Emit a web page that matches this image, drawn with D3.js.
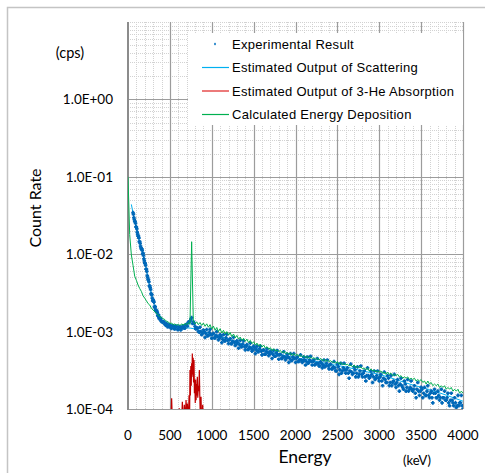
<!DOCTYPE html>
<html>
<head>
<meta charset="utf-8">
<script src="https://cdn.jsdelivr.net/npm/d3@7"></script>
<style>
  body { margin: 0; background: #fff; }
  svg text { font-family: Lato, "Open Sans", sans-serif; fill: #000; }
  .legend text { font-family: "Liberation Sans", Arial, sans-serif; font-size: 13px; letter-spacing: 0.3px; }
</style>
</head>
<body>
<div id="container-chart"></div>
<script>
// axis ticks
const xTickValues = [0, 500, 1000, 1500, 2000, 2500, 3000, 3500, 4000];
const yTickValues = [1, 0.1, 0.01, 0.001, 0.0001];
const yTickLabels = ["1.0E+00", "1.0E-01", "1.0E-02", "1.0E-03", "1.0E-04"];

const legendLabels = [
  "Experimental Result",
  "Estimated Output of Scattering",
  "Estimated Output of 3-He Absorption",
  "Calculated Energy Deposition"
];

// Experimental Result (cps), channels every 20 keV from 60 keV
const expStep = 20;
const expStart = 60;
const expRate = [
  .0345, .0266, .0224, .0171, .0145, .0116, .0103, .0077, .0064, .0047,
  .0039, .0030, .00258, .00205, .00188, .00158, .00152, .00136, .00135, .00124,
  .00128, .00116, .00121, .00110, .00119, .00108, .00117, .00106, .00115, .00109,
  .00118, .00111, .00124, .00131, .00137, .00152, .00134, .00117, .00112, .00101,
  .00114, .00091, .00105, .00084, .00106, .00089, .00107, .00082, .00095, .00083,
  .00100, .00078, .00091, .00072, .00091, .00076, .00092, .00070, .00081, .00070,
  .00084, .00066, .00076, .00061, .00077, .00064, .00076, .00058, .00068, .00059,
  .00071, .00056, .00065, .00052, .00065, .00055, .00065, .00050, .00058, .00051,
  .00060, .00049, .00056, .00045, .00057, .00048, .00057, .00044, .00051, .00045,
  .00055, .00043, .00051, .00040, .00052, .00043, .00052, .00040, .00047, .00041,
  .00050, .00040, .00047, .00037, .00047, .00040, .00048, .00037, .00043, .00038,
  .00045, .00036, .00041, .00034, .00043, .00036, .00043, .00033, .00038, .00033,
  .00041, .00031, .00038, .00028, .00039, .00031, .00039, .00029, .00034, .00025,
  .00038, .00028, .00035, .00026, .00035, .00028, .00036, .00026, .00031, .00023,
  .00034, .00025, .00031, .00022, .00031, .00025, .00031, .00023, .00028, .00020,
  .00030, .00022, .00027, .00020, .00027, .00022, .00028, .00019, .00024, .00017,
  .00025, .00019, .00023, .00017, .00024, .00018, .00023, .00017, .00020, .00014,
  .00022, .00015, .00019, .00014, .00019, .00015, .00020, .00014, .00017, .00012,
  .00018, .00014, .00017, .00013, .00018, .00014, .00017, .00013, .00016, .00011,
  .00016, .00012, .00014, .000104, .00015, .00012, .00015, .00010
];

// Experimental Result (cps), channels every 20 keV from 70 keV
const expStartB = 70;
const expRateB = [
  .0296, .0250, .0193, .0162, .0127, .0112, .0087, .0072, .0053, .0044,
  .0035, .0027, .0024, .00190, .00176, .00151, .00147, .00132, .00133, .00121,
  .00116, .00123, .00112, .00120, .00109, .00118, .00107, .00116, .00105, .00117,
  .00111, .00122, .00118, .00134, .00145, .00127, .00128, .00108, .00111, .00098,
  .00100, .00095, .00100, .00094, .00088, .00098, .00091, .00092, .00083, .00089,
  .00087, .00082, .00087, .00080, .00076, .00083, .00077, .00078, .00070, .00075,
  .00073, .00068, .00072, .00068, .00064, .00069, .00064, .00065, .00059, .00063,
  .00061, .00058, .00062, .00058, .00055, .00060, .00056, .00057, .00051, .00055,
  .00054, .00051, .00054, .00051, .00048, .00053, .00050, .00050, .00045, .00048,
  .00047, .00045, .00047, .00045, .00042, .00047, .00045, .00045, .00041, .00043,
  .00043, .00041, .00043, .00041, .00039, .00043, .00041, .00041, .00037, .00039,
  .00039, .00036, .00039, .00037, .00035, .00039, .00036, .00037, .00033, .00035,
  .00034, .00031, .00035, .00032, .00029, .00034, .00032, .00032, .00029, .00031,
  .00030, .00029, .00032, .00029, .00026, .00031, .00028, .00029, .00026, .00027,
  .00027, .00026, .00028, .00026, .00024, .00027, .00025, .00026, .00023, .00025,
  .00024, .00022, .00025, .00022, .00020, .00023, .00021, .00022, .00020, .00021,
  .00020, .00018, .00021, .00019, .00017, .00019, .00018, .00018, .00016, .00018,
  .00017, .00017, .00018, .00016, .00015, .00017, .00015, .00016, .00014, .00016,
  .00016, .00014, .00015, .00014, .00012, .00014, .00013, .00014, .00012, .00013,
  .00013, .00011, .00012, .00011, .00011, .00012, .00011
];

// Experimental Result (cps), low-energy channels every 10 keV from 65 keV
const expStartC = 65, expStepC = 10;
const expRateC = [
  .0328, .0281, .0263, .0226, .0212, .0181, .0171, .0145, .0138, .0121,
  .0117, .0101, .0096, .0082, .0076, .0064, .0060, .0050, .0047, .0039,
  .0037, .0031, .0030, .0025, .0025, .0021, .0021, .00182, .00182, .00162,
  .00164, .00146, .00150, .00138
];

// Estimated Output of Scattering (cps)
const scatterEnergy = [40, 60, 100, 150, 200, 250, 300, 350, 400, 450, 500, 600, 700, 800, 900,
  1000, 1200, 1400, 1600, 1800, 2000, 2200, 2400, 2600, 2800, 3000, 3200, 3400, 3600, 3800, 4000];
const scatterRate = [.044, .034, .0219, .0130, .0080, .0043, .0025, .00175, .0014, .00125, .00117,
  .00112, .00112, .00108, .00100, .00093, .00080, .00067, .00058, .00051, .00046, .00042, .00038,
  .00035, .00031, .00028, .00024, .000204, .000178, .000151, .000126];

// Estimated Output of 3-He Absorption (cps), 0 = no counts
const absEnergy = [500, 516, 521, 526, 608, 613, 618, 644, 649, 654, 668, 673, 678, 688, 693, 698,
  704, 709, 714, 724, 729, 734, 736, 740, 745, 750, 755, 760, 764, 768, 773, 778, 783, 788, 793, 798,
  803, 808, 813, 818, 823, 828, 833, 840, 846, 852, 857, 862, 868, 872, 876, 888, 892, 896];
const absRate = [0, 0, 1.38e-4, 0, 0, 1.02e-4, 0, 0, 1.24e-4, 0, 0, 1.13e-4, 0, 0, 1.31e-4, 0,
  0, 1.18e-4, 0, 0, 1.5e-4, 0, 0, 3.2e-4, 1.5e-4, 3.6e-4, 2.0e-4, 3.9e-4, 2.6e-4, 5.2e-4, 2.8e-4,
  4.6e-4, 2.2e-4, 4.3e-4, 1.6e-4, 2.4e-4, 1.2e-4, 2.4e-4, 1.3e-4, 2.1e-4, 1.5e-4, 2.6e-4, 1.4e-4,
  2.0e-4, 1.7e-4, 3.2e-4, 1.5e-4, 0, 0, 1.44e-4, 0, 0, 1.13e-4, 0];

// Calculated Energy Deposition (cps), every 20 keV from 0
const calcStart = 0, calcStep = 20;
const calcRate = [
  .100, .018, .0098, .0072, .0052, .0046, .0040, .0036, .0033, .0029,
  .0027, .0025, .0023, .0022, .0020, .0019, .0018, .00172, .00163, .00157,
  .00152, .00147, .00143, .00136, .00133, .00127, .00129, .00122, .00126, .00120,
  .00125, .00119, .00126, .00121, .00128, .00122, .00130, .00124, .0145, .00135,
  .00126, .00134, .00123, .00131, .00120, .00129, .00117, .00126, .00114, .00123,
  .00108, .00118, .00104, .00113, .00100, .00109, .00096, .00104, .00093, .00100,
  .00090, .00097, .00086, .00093, .00083, .00089, .00080, .00085, .00077, .00082,
  .00075, .00080, .00072, .00077, .00070, .00074, .00067, .00071, .00065, .00069,
  .00063, .00067, .00061, .00064, .00059, .00062, .00057, .00060, .00056, .00058,
  .00055, .00057, .00053, .00056, .00052, .00054, .00051, .00053, .00049, .00052,
  .00049, .00051, .00048, .00050, .00047, .00049, .00046, .00048, .00045, .00047,
  .00045, .00046, .00044, .00045, .00043, .00045, .00042, .00044, .00041, .00043,
  .00041, .00042, .00040, .00041, .00039, .00041, .00038, .00040, .00037, .00039,
  .00037, .00038, .00036, .00037, .00035, .00037, .00034, .00036, .00034, .00035,
  .00033, .00034, .00032, .00034, .00031, .00033, .00031, .00032, .00030, .00031,
  .00030, .00031, .00029, .00030, .00028, .00030, .00028, .00029, .00027, .00028,
  .00027, .00028, .00026, .00027, .00025, .00026, .00025, .00026, .00024, .00025,
  .00024, .00025, .00023, .00024, .00023, .00024, .00022, .00023, .00021, .00023,
  .00021, .00022, .00020, .00021, .00020, .00021, .00019, .00020, .00019, .00020,
  .00018, .00019, .00018, .00019, .00017, .00018, .00017, .00018, .00016, .00017,
  .00016
];

const expData = expRate.map((v, i) => ({e: expStart + i * expStep, v: v}))
  .concat(expRateB.map((v, i) => ({e: expStartB + i * expStep, v: v})))
  .concat(expRateC.map((v, i) => ({e: expStartC + i * expStepC, v: v})));
const calcData = calcRate.map((v, i) => ({e: calcStart + i * calcStep, v: v}));
const scatterData = scatterEnergy.map((e, i) => ({e: e, v: scatterRate[i]}));
const absData = absEnergy.map((e, i) => ({e: e, v: absRate[i]}));

const W = 485, H = 473;
const margin = {top: 22, right: 22, bottom: 64, left: 128};
const width = W - margin.left - margin.right;
const height = H - margin.top - margin.bottom;

const root = d3.select("#container-chart")
  .append("svg")
  .attr("width", W)
  .attr("height", H);

// outer chart frame
root.append("rect")
  .attr("x", 7.5).attr("y", 7.5)
  .attr("width", 520).attr("height", 520)
  .attr("fill", "none")
  .attr("stroke", "#c4c4c4")
  .attr("stroke-width", 1.5);

const svg = root.append("g")
  .attr("transform", "translate(" + margin.left + "," + margin.top + ")");

const x = d3.scaleLinear().domain([0, 4000]).range([0, width]);
const y = d3.scaleLog().domain([1e-4, 10]).range([height, 0]);

// grid
const minorX = d3.range(100, 4000, 100).filter(d => d % 500 !== 0);
svg.append("g").selectAll("line").data(minorX).join("line")
  .attr("x1", d => Math.round(x(d)) + 0.5).attr("x2", d => Math.round(x(d)) + 0.5)
  .attr("y1", 0).attr("y2", height)
  .attr("stroke", "#d2d2d2").attr("stroke-dasharray", "1,1");

const minorY = y.ticks().filter(d => Math.abs(Math.log10(d) - Math.round(Math.log10(d))) > 1e-6);
minorY.push(10);
svg.append("g").selectAll("line").data(minorY).join("line")
  .attr("x1", 0).attr("x2", width)
  .attr("y1", d => Math.round(y(d)) + 0.5).attr("y2", d => Math.round(y(d)) + 0.5)
  .attr("stroke", "#d2d2d2").attr("stroke-dasharray", "1,1");

svg.append("g").selectAll("line").data(xTickValues.slice(1)).join("line")
  .attr("x1", d => Math.round(x(d)) + 0.5).attr("x2", d => Math.round(x(d)) + 0.5)
  .attr("y1", 0).attr("y2", height)
  .attr("stroke", "#9c9c9c").attr("stroke-width", 1.2);

svg.append("g").selectAll("line").data(yTickValues).join("line")
  .attr("x1", 0).attr("x2", width)
  .attr("y1", d => Math.round(y(d)) + 0.5).attr("y2", d => Math.round(y(d)) + 0.5)
  .attr("stroke", "#9c9c9c").attr("stroke-width", 1.2);

// left axis line
svg.append("line")
  .attr("x1", 0).attr("x2", 0).attr("y1", 0).attr("y2", height + 1)
  .attr("stroke", "#8c8c8c").attr("stroke-width", 2);

// tick labels
svg.append("g").selectAll("text").data(yTickValues).join("text")
  .attr("x", -15)
  .attr("y", d => y(d) + 5)
  .attr("text-anchor", "end")
  .style("font-size", "13.5px")
  .text((d, i) => yTickLabels[i]);

svg.append("g").selectAll("text").data(xTickValues).join("text")
  .attr("x", d => x(d))
  .attr("y", height + 31)
  .attr("text-anchor", "middle")
  .style("font-size", "13.5px")
  .text(d => d);

// axis titles
root.append("text")
  .attr("transform", "translate(41,208) rotate(-90)")
  .attr("text-anchor", "middle")
  .style("font-size", "16px")
  .text("Count Rate");

root.append("text")
  .attr("x", 70).attr("y", 58)
  .attr("text-anchor", "middle")
  .style("font-size", "14.5px")
  .text("(cps)");

root.append("text")
  .attr("x", 305).attr("y", 463)
  .attr("text-anchor", "middle")
  .style("font-size", "17.5px")
  .text("Energy");

root.append("text")
  .attr("x", 417).attr("y", 465)
  .attr("text-anchor", "middle")
  .style("font-size", "13px")
  .text("(keV)");

// data
svg.append("clipPath").attr("id", "plot-clip")
  .append("rect").attr("width", width).attr("height", height);

const plot = svg.append("g").attr("clip-path", "url(#plot-clip)");

const yv = d => d.v > 0 ? y(d.v) : height + 3;
const line = d3.line().x(d => x(d.e)).y(yv);

plot.append("path")
  .datum(scatterData)
  .attr("fill", "none")
  .attr("stroke", "#00b0f0")
  .attr("stroke-width", 1)
  .attr("d", d3.line().curve(d3.curveMonotoneX).x(d => x(d.e)).y(yv));

const plus = "M-1.8,0H1.8M0,-1.8V1.8";
plot.append("g").selectAll("path").data(expData).join("path")
  .attr("transform", d => "translate(" + x(d.e) + "," + y(d.v) + ")")
  .attr("d", plus)
  .attr("stroke", "#0068b8")
  .attr("stroke-width", 1.8);

plot.append("path")
  .datum(absData)
  .attr("fill", "none")
  .attr("stroke", "#c00000")
  .attr("stroke-width", 1.2)
  .attr("d", line);

plot.append("path")
  .datum(calcData)
  .attr("fill", "none")
  .attr("stroke", "#00b050")
  .attr("stroke-width", 1)
  .attr("d", line);

// legend
const legend = root.append("g").attr("class", "legend");
legend.append("rect")
  .attr("x", 188).attr("y", 33)
  .attr("width", 463 - 188).attr("height", 92)
  .attr("fill", "#fff");

const legendY = [44, 67.5, 91, 114.5];
const legendColors = [null, "#00b0f0", "#e02020", "#00b050"];

legend.append("path")
  .attr("transform", "translate(215," + legendY[0] + ")")
  .attr("d", "M-1,0H1M0,-1.2V1.2")
  .attr("stroke", "#0070c0")
  .attr("stroke-width", 1);

legend.selectAll("line").data(legendColors.slice(1)).join("line")
  .attr("x1", 202).attr("x2", 229)
  .attr("y1", (d, i) => legendY[i + 1]).attr("y2", (d, i) => legendY[i + 1])
  .attr("stroke", d => d)
  .attr("stroke-width", 1.2);

legend.selectAll("text").data(legendLabels).join("text")
  .attr("x", 232)
  .attr("y", (d, i) => legendY[i] + 4.5)
  .text(d => d);
</script>
</body>
</html>
